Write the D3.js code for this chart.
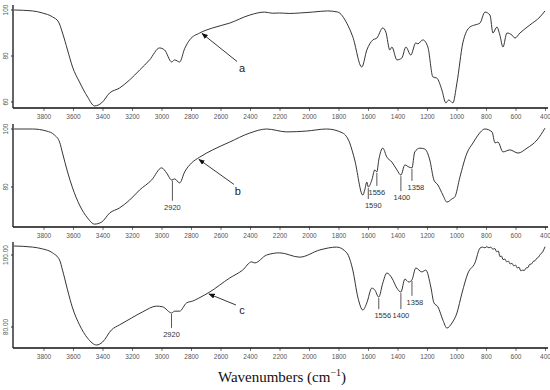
<!DOCTYPE html>
<html>
<head>
<meta charset="utf-8">
<script src="https://cdn.jsdelivr.net/npm/d3@7"></script>
<style>
body { margin: 0; background: #fff; }
.tick text { font-family: "Liberation Sans", Arial, sans-serif; font-size: 6.5px; fill: #555; }
</style>
</head>
<body>
<svg id="ftir"></svg>
<script>
// wavenumber ticks shared by the three panels
var xTicks = [3800,3600,3400,3200,3000,2800,2600,2400,2200,2000,1800,1600,1400,1200,1000,800,600,400];

// spectrum a : [wavenumber, transmittance]
var specA = [
  [4000,100],[3875,99.6],[3807,98.7],[3739,97.0],[3698,94.8],[3671,90.0],[3637,82.6],[3603,75.2],
  [3556,68.7],[3501,62.2],[3454,58.3],[3406,59.6],[3352,63.9],[3284,66.1],[3216,69.6],[3148,73.9],
  [3081,78.3],[3013,83.5],[2979,82.6],[2931,77.4],[2911,78.3],[2877,77.4],[2843,83.2],[2809,87.0],
  [2741,90.0],[2653,92.2],[2538,94.3],[2402,97.8],[2300,99.1],[2250,98.6],[2199,98.7],[2130,98.5],
  [2063,98.7],[1975,99.1],[1873,99.6],[1805,99.1],[1744,94.3],[1703,88.3],[1642,75.2],[1608,82.6],
  [1567,87.0],[1540,87.8],[1500,92.2],[1479,90.4],[1452,82.6],[1438,83.9],[1404,78.3],[1371,79.1],
  [1343,83.9],[1310,80.4],[1276,85.7],[1262,85.3],[1228,87.0],[1194,83.9],[1160,70.9],[1133,70.4],
  [1099,65.2],[1072,59.6],[1052,60.9],[1025,59.6],[997,68.3],[957,85.7],[909,92.6],[875,93.5],
  [841,94.3],[807,99.1],[773,97.8],[753,90.0],[726,92.6],[706,89.1],[685,83.9],[658,90.0],
  [624,89.1],[604,87.8],[570,90.0],[502,93.5],[434,97.0],[400,99.6]
];

// spectrum b
var specB = [
  [4000,100],[3875,100],[3780,99.3],[3725,97.9],[3691,95.5],[3671,91.7],[3637,85.2],[3603,79.7],
  [3556,73.8],[3501,69.3],[3454,67.2],[3406,67.9],[3352,71.0],[3284,72.8],[3216,75.5],[3148,79.0],
  [3067,82.4],[2999,86.6],[2965,84.8],[2931,82.4],[2911,82.8],[2877,81.4],[2843,85.2],[2796,88.3],
  [2741,90.3],[2653,92.8],[2538,95.5],[2402,98.6],[2287,100],[2151,99.0],[2015,99.3],[1880,100],
  [1771,98.6],[1724,95.2],[1690,89.3],[1635,77.2],[1622,79.0],[1608,81.7],[1598,80.0],[1574,82.4],
  [1554,85.9],[1540,85.2],[1527,89.3],[1500,93.4],[1472,90.3],[1438,88.6],[1404,85.9],[1377,84.1],
  [1350,87.6],[1323,86.9],[1302,86.6],[1283,92.1],[1248,93.4],[1215,93.1],[1181,89.3],[1153,82.4],
  [1126,80.7],[1092,77.2],[1065,74.8],[1031,75.9],[1011,76.6],[977,83.4],[929,91.7],[888,95.2],
  [854,97.9],[807,100],[759,99.0],[739,95.2],[719,95.5],[685,92.1],[638,92.8],[583,91.7],
  [522,93.4],[454,96.2],[400,100.3]
];

// spectrum c
var specC = [
  [4000,102.5],[3875,102.2],[3807,101.7],[3739,100.6],[3691,98.6],[3671,95.8],[3637,90.3],[3603,85.3],
  [3556,80.6],[3501,76.9],[3440,75.0],[3400,75.8],[3339,79.2],[3284,80.6],[3203,82.5],[3128,84.2],
  [3033,85.8],[2992,85.6],[2931,83.9],[2911,84.4],[2877,84.4],[2830,86.7],[2789,87.2],[2748,88.0],
  [2674,89.7],[2538,93.6],[2450,95.8],[2389,98.1],[2368,97.8],[2287,100],[2199,100.6],[2063,99.4],
  [1927,101.4],[1812,102.2],[1744,100.6],[1703,95.8],[1669,88.3],[1635,84.7],[1608,86.7],[1574,90.8],
  [1554,90.3],[1527,88.3],[1500,92.2],[1472,95.0],[1438,93.6],[1404,90.8],[1377,89.7],[1350,93.3],
  [1323,92.5],[1302,93.1],[1276,96.4],[1235,95.3],[1208,95.8],[1174,91.1],[1153,86.7],[1126,85.6],
  [1092,81.9],[1065,79.7],[1031,81.1],[997,83.9],[963,89.4],[922,95.0],[875,97.8],[841,101.9],
  [825,102.2],[807,102.0],[795,102.3],[780,102.0],[768,102.2],[753,101.6],[740,101.8],[728,100.9],
  [716,101.1],[706,99.6],[695,99.7],[684,98.7],[672,98.9],[660,98.1],[648,98.3],[636,97.5],
  [624,97.7],[612,97.0],[600,97.2],[588,96.4],[576,96.6],[564,95.6],[552,95.8],[540,95.7],
  [528,96.4],[516,96.5],[504,97.4],[492,97.5],[480,98.2],[468,98.4],[456,99.1],[444,99.4],
  [432,100.2],[420,100.6],[408,101.5],[400,102.3]
];

// y tick values per panel
var yTicksA = [100, 80, 60];
var yTicksB = [100, 80];
var yTicksC = [100, 80];

// arrow labels and the wavenumber each arrow points at
var arrowLabels = ["a", "b", "c"];
var arrowWn = [2732, 2753, 2685];

// marked peaks: label text and where the marker sits
var peakLabelsB = ["2920", "1590", "1556", "1400", "1358"];
var peakWnB = [2926, 1598, 1540, 1377, 1302];
var peakLabelsC = ["2920", "1556", "1400", "1358"];
var peakWnC = [2932, 1527, 1377, 1302];

var W = 550, H = 390;
var svg = d3.select("#ftir").attr("width", W).attr("height", H);

var x = d3.scaleLinear().domain([4000, 400]).range([14, 545]);

var panels = [
  {data: specA, y: d3.scaleLinear().domain([60, 100]).range([102, 10]), top: 5, base: 108,
   ticks: yTicksA, fmt: d3.format("d"), arrow: {dx: 36, dy: 29, tx: 41, ty: 40},
   peaks: [], drops: []},
  {data: specB, y: d3.scaleLinear().domain([80, 100]).range([187, 129]), top: 124, base: 227,
   ticks: yTicksB, fmt: d3.format("d"), arrow: {dx: 36, dy: 26, tx: 40, ty: 37},
   peaks: d3.zip(peakLabelsB, peakWnB), drops: [[20, 0], [11, 5], [13, 0], [15, 1], [12, 4]]},
  {data: specC, y: d3.scaleLinear().domain([80, 100]).range([327, 255]), top: 242, base: 348,
   ticks: yTicksC, fmt: d3.format(".2f"), arrow: {dx: 28, dy: 12, tx: 34, ty: 21},
   peaks: d3.zip(peakLabelsC, peakWnC), drops: [[14, 0], [11, 4], [16, 0], [15, 3]]}
];

// arrowhead
svg.append("defs").append("marker")
  .attr("id", "head")
  .attr("viewBox", "0 0 10 10")
  .attr("refX", 9).attr("refY", 5)
  .attr("markerWidth", 7).attr("markerHeight", 7)
  .attr("orient", "auto")
  .append("path").attr("d", "M0,1 L10,5 L0,9 Z").attr("fill", "#111");

function valueAt(data, wn) {
  for (var i = 0; i < data.length - 1; i++) {
    var a = data[i], b = data[i + 1];
    if (wn <= a[0] && wn >= b[0]) {
      var t = (a[0] - wn) / (a[0] - b[0]);
      return a[1] + t * (b[1] - a[1]);
    }
  }
  return data[data.length - 1][1];
}

panels.forEach(function(p, k) {
  var g = svg.append("g");

  // x axis
  var xa = g.append("g")
    .attr("transform", "translate(0," + p.base + ")")
    .call(d3.axisBottom(x).tickValues(xTicks).tickSize(3).tickPadding(3).tickFormat(d3.format("d")));
  xa.select(".domain").remove();
  xa.selectAll(".tick line").attr("stroke", "#777");
  g.append("line")
    .attr("x1", 13).attr("x2", 548)
    .attr("y1", p.base).attr("y2", p.base)
    .attr("stroke", "#111").attr("stroke-width", 1.6);

  // y axis
  g.append("line")
    .attr("x1", 13).attr("x2", 13)
    .attr("y1", p.top).attr("y2", p.base)
    .attr("stroke", "#111").attr("stroke-width", 1.3);
  p.ticks.forEach(function(v) {
    g.append("line")
      .attr("x1", 11).attr("x2", 13)
      .attr("y1", p.y(v)).attr("y2", p.y(v))
      .attr("stroke", "#333");
    g.append("text")
      .attr("transform", "translate(8," + p.y(v) + ") rotate(-90)")
      .attr("text-anchor", "middle")
      .style("font-family", "Liberation Sans, Arial, sans-serif")
      .style("font-size", "6.5px")
      .style("fill", "#555")
      .text(p.fmt(v));
  });

  // spectrum
  var line = d3.line()
    .x(function(d) { return x(d[0]); })
    .y(function(d) { return p.y(d[1]); })
    .curve(d3.curveMonotoneX);
  g.append("path")
    .datum(p.data)
    .attr("d", line)
    .attr("fill", "none")
    .attr("stroke", "#2a2a2a")
    .attr("stroke-width", 0.95);

  // arrow + letter
  var tipX = x(arrowWn[k]), tipY = p.y(valueAt(p.data, arrowWn[k]));
  g.append("line")
    .attr("x1", tipX + p.arrow.dx).attr("y1", tipY + p.arrow.dy)
    .attr("x2", tipX + 1).attr("y2", tipY + 1)
    .attr("stroke", "#222").attr("stroke-width", 0.9)
    .attr("marker-end", "url(#head)");
  g.append("text")
    .attr("x", tipX + p.arrow.tx).attr("y", tipY + p.arrow.ty)
    .attr("text-anchor", "middle")
    .style("font-family", "Liberation Sans, Arial, sans-serif")
    .style("font-size", "11px")
    .style("fill", "#222")
    .text(arrowLabels[k]);

  // peak markers
  p.peaks.forEach(function(pk, i) {
    var px = x(pk[1]), py = p.y(valueAt(p.data, pk[1])) + 1;
    var end = py + p.drops[i][0];
    g.append("line")
      .attr("x1", px).attr("x2", px)
      .attr("y1", py).attr("y2", end)
      .attr("stroke", "#444").attr("stroke-width", 0.9);
    g.append("text")
      .attr("x", px + p.drops[i][1]).attr("y", end + 9)
      .attr("text-anchor", "middle")
      .style("font-family", "Liberation Sans, Arial, sans-serif")
      .style("font-size", "7.5px")
      .style("fill", "#333")
      .text(pk[0]);
  });
});

// axis title
var title = svg.append("text")
  .attr("x", 282).attr("y", 382)
  .attr("text-anchor", "middle")
  .style("font-family", "Liberation Serif, Times New Roman, serif")
  .style("font-size", "15px")
  .style("fill", "#111");
title.append("tspan").text("Wavenumbers (cm");
title.append("tspan").attr("dy", -6).style("font-size", "10px").text("\u22121");
title.append("tspan").attr("dy", 6).text(")");
</script>
</body>
</html>
